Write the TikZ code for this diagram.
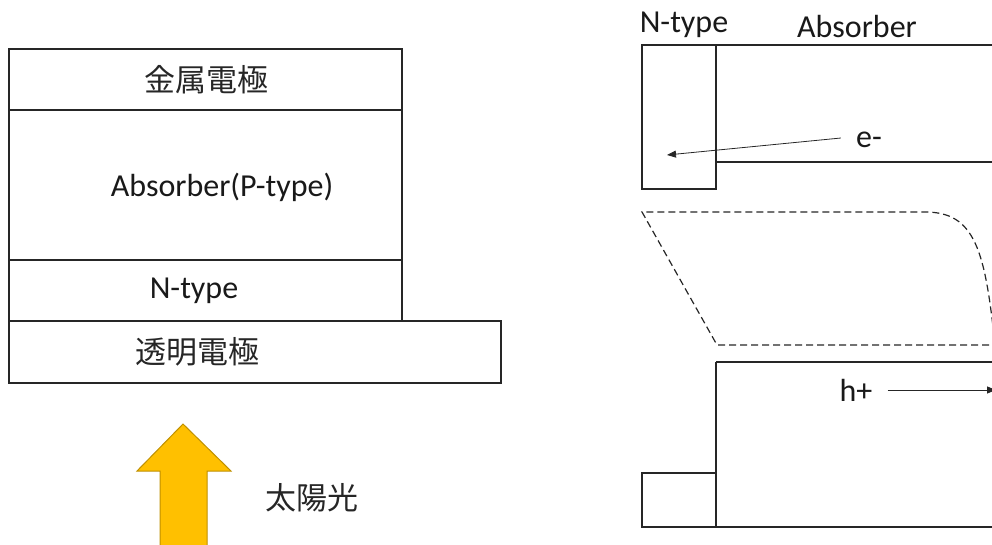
\documentclass[tikz,border=0pt]{standalone}
\usepackage{fontspec}
\setmainfont{Carlito}
\newfontfamily\jp{Noto Sans CJK JP}
\usetikzlibrary{arrows.meta}
\definecolor{sungold}{HTML}{FFC000}
\definecolor{sunedge}{HTML}{BF9000}
\begin{document}
\begin{tikzpicture}[x=1pt,y=-1pt,
  layer/.style={draw=black!85,line width=1.4pt},
  lbl/.style={font=\fontsize{32}{36}\selectfont,text=black!90,inner sep=0pt},
  jlbl/.style={font=\jp\fontsize{31}{36}\selectfont,text=black!85,inner sep=0pt},
  thin arrow/.style={draw=black!85,line width=0.8pt,-{Triangle[length=9pt,width=7pt]}},
  dashline/.style={draw=black!85,line width=1.2pt,dash pattern=on 7pt off 4pt}]
\useasboundingbox (0,0) rectangle (992,545);
\clip (0,0) rectangle (992,545);
% left stack
\draw[layer] (9,49) rectangle (402,110);
\draw[layer] (9,110) rectangle (402,260);
\draw[layer] (9,260) rectangle (402,321);
\draw[layer] (9,321) rectangle (501,383);
\node[jlbl] (metal) at (206,80) {金属電極};
\node[lbl] (absp) at (222,187) {Absorber(P-type)};
\node[lbl] (ntl) at (194,291) {N-type};
\node[jlbl] (tco) at (197,352) {透明電極};
% sunlight arrow
\draw[fill=sungold,draw=sunedge,line width=1pt] (160,550) -- (160,471) -- (137,471) -- (183,424) -- (231,471) -- (207,471) -- (207,550);
\node[jlbl] (sun) at (312,498) {太陽光};
% right top
\draw[layer] (642,45) rectangle (716,189);
\draw[layer] (716,45) -- (1000,45);
\draw[layer] (716,162) -- (1000,162);
\node[lbl] (ntr) at (684,25) {N-type};
\node[lbl] (absr) at (857,27) {Absorber};
\node[lbl] (em) at (869,140) {e-};
\coordinate (etip) at (667,155);
\draw[thin arrow] (em.west) ++(-15,-2) -- (etip);
% dashed region
\draw[dashline] (1000,345) -- (717,345) -- (642,212) -- (925,212) .. controls (975,212) and (985,250) .. (995,345);
% right bottom
\draw[layer] (716,362) -- (1000,362);
\draw[layer] (716,362) -- (716,527) -- (1000,527);
\draw[layer] (642,473) rectangle (716,527);
\node[lbl] (hp) at (856,390) {h+};
\coordinate (htip) at (996,390);
\draw[thin arrow] (hp.east) ++(15,0) -- (htip);
\end{tikzpicture}
\end{document}
